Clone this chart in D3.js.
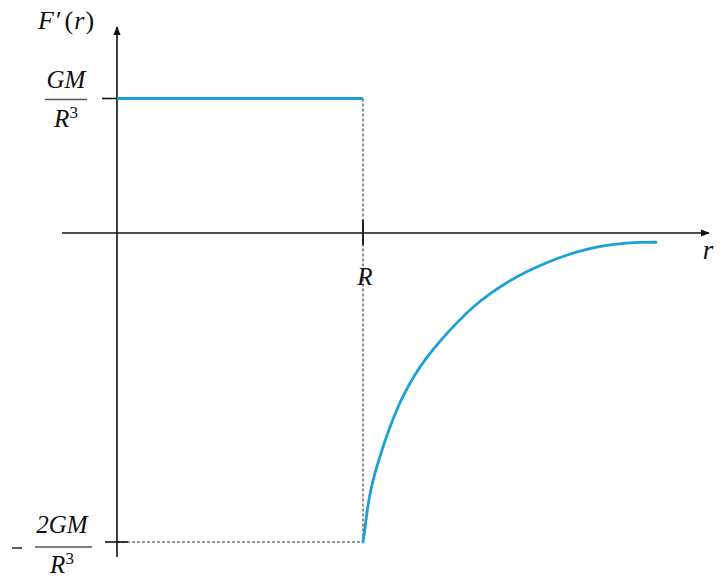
<!DOCTYPE html>
<html><head><meta charset="utf-8">
<script src="https://cdn.jsdelivr.net/npm/d3@7"></script>
<style>
html,body{margin:0;padding:0;background:#fff;}
svg text{font-family:"Liberation Serif","DejaVu Serif",serif;font-style:italic;fill:#111;}
</style></head>
<body><svg id="c" width="720" height="579"></svg>
<script>
// Inside the sphere (r < R): constant value GM/R^3 (=1 in units of GM/R^3)
const innerR = [0, 1];
const innerV = [1, 1];
// Outside the sphere (r >= R), r in units of R, value in units of GM/R^3
const outerR = [1.0, 1.009, 1.017, 1.031, 1.048, 1.068, 1.089, 1.118, 1.142, 1.164, 1.204, 1.259, 1.313, 1.382, 1.448, 1.516, 1.584, 1.665, 1.747, 1.828, 1.909, 1.991, 2.072, 2.139, 2.191];
const outerV = [-2.0, -1.901, -1.793, -1.663, -1.555, -1.450, -1.346, -1.220, -1.126, -1.052, -0.932, -0.803, -0.699, -0.579, -0.476, -0.392, -0.320, -0.249, -0.191, -0.142, -0.104, -0.078, -0.063, -0.060, -0.060];
// Axis ticks and labels
const rTicks = [1];
const vTicks = [1, -2];
const axisLabelY = ["F", "′", "(", "r", ")"];
const axisLabelX = "r";
const rTickLabel = "R";

const svg = d3.select("#c");
const x = d3.scaleLinear().domain([0, 1]).range([117, 363]);
const y = d3.scaleLinear().domain([-2, 0, 1]).range([542, 233, 98.5]);

const defs = svg.append("defs");
defs.append("marker").attr("id","arr").attr("viewBox","0 0 10 10").attr("refX",9).attr("refY",5)
  .attr("markerWidth",9).attr("markerHeight",9).attr("markerUnits","userSpaceOnUse").attr("orient","auto")
  .append("path").attr("d","M0,1 L10,5 L0,9 Z").attr("fill","#111");

// axes
svg.append("line").attr("x1", 62).attr("x2", 709).attr("y1", y(0)).attr("y2", y(0))
  .attr("stroke","#111").attr("stroke-width",1.6).attr("marker-end","url(#arr)");
svg.append("line").attr("x1", x(0)).attr("x2", x(0)).attr("y1", 557).attr("y2", 27)
  .attr("stroke","#111").attr("stroke-width",1.6).attr("marker-end","url(#arr)");

// dashed guides
svg.append("line").attr("x1", x(1)).attr("x2", x(1)).attr("y1", y(1)).attr("y2", y(-2))
  .attr("stroke","#333").attr("stroke-width",1.1).attr("stroke-dasharray","3,2");
svg.append("line").attr("x1", x(0)).attr("x2", x(1)).attr("y1", y(-2)).attr("y2", y(-2))
  .attr("stroke","#333").attr("stroke-width",1.1).attr("stroke-dasharray","3,2");

// ticks
svg.selectAll(".rt").data(rTicks).enter().append("line")
  .attr("x1", d=>x(d)).attr("x2", d=>x(d)).attr("y1", y(0)-13).attr("y2", y(0)+12)
  .attr("stroke","#111").attr("stroke-width",1.8);
svg.append("line").attr("x1", x(0)-15).attr("x2", x(0)).attr("y1", y(vTicks[0])).attr("y2", y(vTicks[0]))
  .attr("stroke","#111").attr("stroke-width",1.6);
svg.append("line").attr("x1", x(0)-12).attr("x2", x(0)+11).attr("y1", y(vTicks[1])).attr("y2", y(vTicks[1]))
  .attr("stroke","#111").attr("stroke-width",1.6);

// data lines
const blue = "#1d9fd8";
const line = d3.line().x(d=>x(d[0])).y(d=>y(d[1]));
svg.append("path").datum(d3.zip(innerR, innerV)).attr("d", line)
  .attr("fill","none").attr("stroke",blue).attr("stroke-width",2.8);
svg.append("path").datum(d3.zip(outerR, outerV)).attr("d", line.curve(d3.curveBasis))
  .attr("fill","none").attr("stroke",blue).attr("stroke-width",2.8).attr("stroke-linecap","round");

// labels
const fs = 25;
const yl = svg.append("text").attr("x", 38).attr("y", 29).attr("font-size", 26);
yl.append("tspan").text(axisLabelY[0]);
yl.append("tspan").attr("dx", 2).attr("font-style","normal").text(axisLabelY[1]);
yl.append("tspan").attr("dx", 3).attr("font-style","normal").text(axisLabelY[2]);
yl.append("tspan").attr("dx", 1).text(axisLabelY[3]);
yl.append("tspan").attr("dx", 1).attr("font-style","normal").text(axisLabelY[4]);
svg.append("text").attr("x", 708).attr("y", 259).attr("text-anchor","middle").attr("font-size", 27).text(axisLabelX);
svg.selectAll(".rl").data(rTicks).enter().append("text")
  .attr("x", d=>x(d)+2).attr("y", 285).attr("text-anchor","middle").attr("font-size", fs).text(rTickLabel);

// fraction labels
function frac(cx, numY, barY, denY, num, barX1, barX2) {
  svg.append("text").attr("x", cx).attr("y", numY).attr("text-anchor","middle").attr("font-size", fs).text(num);
  svg.append("line").attr("x1", barX1).attr("x2", barX2).attr("y1", barY).attr("y2", barY)
    .attr("stroke","#555").attr("stroke-width",1.6);
  const t = svg.append("text").attr("x", cx).attr("y", denY).attr("text-anchor","middle").attr("font-size", fs);
  t.append("tspan").text("R");
  t.append("tspan").attr("font-size", 17).attr("font-style","normal").attr("dy", -9).text("3");
}
frac(66, 88, y(vTicks[0])+1, 127, "GM", 45, 87);
frac(62, 533, y(vTicks[1])+5, 573, "2GM", 35, 92);
svg.append("line").attr("x1", 12).attr("x2", 22).attr("y1", y(vTicks[1])+6).attr("y2", y(vTicks[1])+6)
  .attr("stroke","#333").attr("stroke-width",1.6);
</script></body></html>
